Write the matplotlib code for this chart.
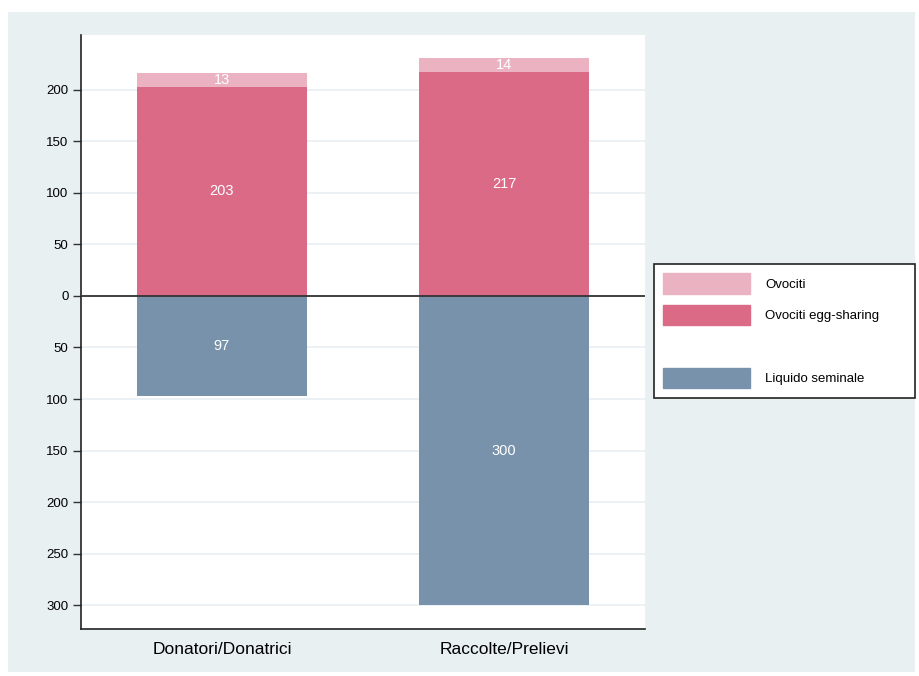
import matplotlib.pyplot as plt
from matplotlib.patches import Rectangle, Patch

plt.rcParams["font.family"] = ["Liberation Sans", "DejaVu Sans"]

# Data
categories = ["Donatori/Donatrici", "Raccolte/Prelievi"]
ovociti_egg = [203, 217]
ovociti = [13, 14]
liquido = [97, 300]

col_ovo = "#ebb3c2"
col_egg = "#db6a87"
col_liq = "#7892ab"
bg = "#e8f0f2"

fig = plt.figure(figsize=(9.19, 6.76), dpi=100)
fig.patch.set_facecolor("white")
# light outer panel
fig.patches.append(Rectangle((8 / 919, 4 / 676), 907 / 919, 660 / 676,
                             transform=fig.transFigure, facecolor=bg,
                             edgecolor="none", zorder=-10))

ax = fig.add_axes([81 / 919, 47 / 676, 564 / 919, 594 / 676])
ax.set_facecolor("white")

x = list(range(len(categories)))
neg = [-v for v in liquido]

b1 = ax.bar(x, ovociti_egg, width=0.6, color=col_egg, zorder=3)
b2 = ax.bar(x, ovociti, width=0.6, bottom=ovociti_egg, color=col_ovo, zorder=3)
b3 = ax.bar(x, neg, width=0.6, color=col_liq, zorder=3)

# value labels inside segments
for i in x:
    ax.text(i, ovociti_egg[i] / 2, str(ovociti_egg[i]), ha="center", va="center",
            color="white", fontsize=10.5, zorder=4)
    ax.text(i, ovociti_egg[i] + ovociti[i] / 2, str(ovociti[i]), ha="center",
            va="center", color="white", fontsize=10.5, zorder=4)
    ax.text(i, neg[i] / 2, str(liquido[i]), ha="center", va="center",
            color="white", fontsize=10.5, zorder=4)

ax.axhline(0, color="#333333", linewidth=1.3, zorder=5)

ax.set_xlim(-0.5, 1.5)
ax.set_ylim(-323, 253)
yt = [200, 150, 100, 50, 0, -50, -100, -150, -200, -250, -300]
ax.set_yticks(yt)
ax.set_yticklabels([str(abs(v)) for v in yt], fontsize=9.5)
ax.yaxis.grid(True, color="#e8eff2", linewidth=1.2, zorder=0)
ax.set_axisbelow(True)
ax.set_xticks(x)
ax.set_xticklabels(categories, fontsize=12.5)
ax.tick_params(axis="x", length=0, pad=9)
ax.tick_params(axis="y", length=6, width=1, color="#333333", pad=3)

for s in ["top", "right"]:
    ax.spines[s].set_visible(False)
for s in ["left", "bottom"]:
    ax.spines[s].set_color("#222222")
    ax.spines[s].set_linewidth(1.2)

handles = [Patch(color=col_ovo), Patch(color=col_egg),
           Patch(color="none"), Patch(color=col_liq)]
labels = ["Ovociti", "Ovociti egg-sharing", "", "Liquido seminale"]
leg = fig.legend(handles, labels, loc="upper left",
                 bbox_to_anchor=(654 / 919, 1 - 264 / 676, 261 / 919, 0.0),
                 mode="expand",
                 frameon=True, fancybox=False, fontsize=9.5, framealpha=1,
                 facecolor="white",
                 handlelength=6.6, handleheight=2.0, labelspacing=0.85,
                 handletextpad=1.15, borderpad=0.7, borderaxespad=0)
leg.get_frame().set_edgecolor("#222222")
leg.get_frame().set_linewidth(1.2)

plt.savefig("out.png", dpi=100)
